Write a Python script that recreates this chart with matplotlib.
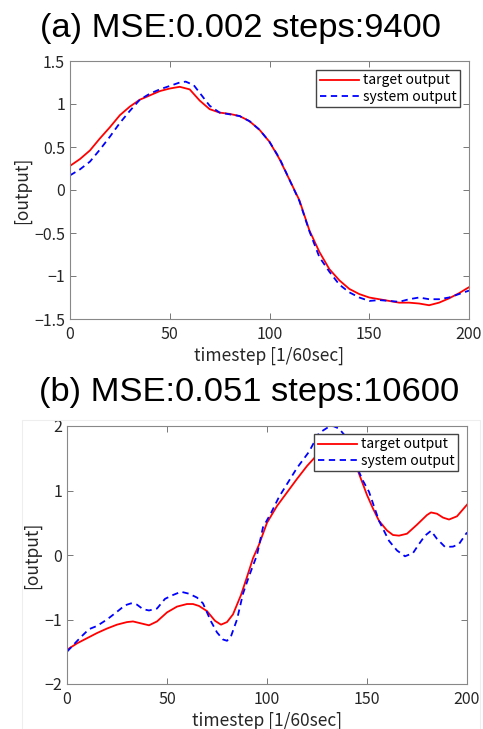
import matplotlib.pyplot as plt
from matplotlib.patches import Rectangle

# (a) top panel
t_a_target = [0, 5, 10, 15, 20, 25, 30, 35, 40, 45, 50, 55, 60, 65, 70, 75, 80, 85, 90, 95,
              100, 105, 110, 115, 120, 125, 130, 135, 140, 145, 150, 155, 160, 165, 170, 175,
              180, 185, 190, 195, 200]
a_target = [0.28, 0.36, 0.46, 0.6, 0.73, 0.87, 0.97, 1.05, 1.1, 1.15, 1.18, 1.2, 1.17, 1.04,
            0.94, 0.9, 0.885, 0.86, 0.8, 0.7, 0.56, 0.36, 0.12, -0.12, -0.47, -0.72, -0.92,
            -1.05, -1.15, -1.21, -1.25, -1.27, -1.29, -1.31, -1.31, -1.32, -1.34, -1.31, -1.26,
            -1.2, -1.13]
t_a_system = [0, 5, 10, 15, 20, 25, 30, 35, 40, 45, 50, 55, 58, 62, 65, 70, 75, 80, 85, 90, 95,
              100, 105, 110, 115, 120, 125, 130, 135, 140, 145, 150, 155, 160, 165, 170, 175,
              180, 185, 190, 195, 200]
a_system = [0.17, 0.24, 0.33, 0.47, 0.62, 0.78, 0.92, 1.05, 1.12, 1.17, 1.21, 1.25, 1.26, 1.22,
            1.13, 0.98, 0.9, 0.88, 0.86, 0.8, 0.7, 0.56, 0.37, 0.12, -0.13, -0.48, -0.78, -0.95,
            -1.1, -1.19, -1.25, -1.29, -1.28, -1.29, -1.3, -1.27, -1.25, -1.27, -1.27, -1.25,
            -1.21, -1.17]

# (b) bottom panel
t_b_target = [0, 5, 10, 15, 20, 25, 30, 33, 37, 41, 45, 50, 55, 60, 63, 66, 70, 74, 77, 80, 83,
              87, 90, 93, 96, 100, 105, 110, 115, 120, 125, 130, 135, 140, 143, 146, 150, 153,
              156, 160, 163, 166, 170, 175, 180, 182, 185, 188, 191, 195, 200]
b_target = [-1.47, -1.37, -1.29, -1.21, -1.14, -1.08, -1.04, -1.03, -1.06, -1.09, -1.03, -0.89,
            -0.8, -0.76, -0.76, -0.79, -0.87, -1.02, -1.08, -1.04, -0.92, -0.62, -0.34, -0.05,
            0.16, 0.5, 0.76, 0.97, 1.18, 1.38, 1.55, 1.7, 1.78, 1.7, 1.52, 1.26, 0.93, 0.72,
            0.53, 0.38, 0.31, 0.3, 0.33, 0.47, 0.62, 0.66, 0.64, 0.58, 0.55, 0.6, 0.78]
t_b_system = [0, 3, 7, 11, 15, 20, 25, 29, 32, 35, 38, 41, 45, 49, 53, 57, 61, 65, 68, 72, 75,
              78, 80, 82, 85, 88, 91, 95, 98, 102, 106, 110, 115, 121, 126, 130, 133, 136, 139,
              142, 145, 148, 151, 156, 161, 165, 169, 173, 176, 179, 182, 185, 189, 193, 196, 200]
b_system = [-1.5, -1.4, -1.27, -1.15, -1.1, -1.0, -0.88, -0.78, -0.75, -0.77, -0.84, -0.86,
            -0.83, -0.68, -0.62, -0.57, -0.6, -0.66, -0.75, -1.03, -1.2, -1.31, -1.33, -1.26,
            -1.0, -0.6, -0.33, 0.0, 0.43, 0.65, 0.9, 1.1, 1.35, 1.6, 1.89, 1.97, 2.0, 1.96, 1.85,
            1.65, 1.36, 1.15, 0.98, 0.53, 0.22, 0.07, -0.02, 0.03, 0.17, 0.3, 0.375, 0.25, 0.125,
            0.13, 0.17, 0.35]

titles = ["(a) MSE:0.002 steps:9400", "(b) MSE:0.051 steps:10600"]
jp = ["Noto Sans CJK JP", "DejaVu Sans"]
W, H = 483, 729

fig = plt.figure(figsize=(W / 100, H / 100), dpi=100)

# faint frame around lower panel
fig.patches.append(Rectangle((22 / W, 0), 458 / W, 1 - 420 / H, transform=fig.transFigure,
                             fill=False, edgecolor="#eeeeee", lw=0.8))


def setup(ax, ylim, yticks, title, tx, ty, leg_xy):
    ax.plot(*leg_xy[0], color="red", lw=1.3, label="target output")
    ax.plot(*leg_xy[1], color="blue", lw=1.3, ls=(0, (3.5, 2.5)), label="system output")
    ax.set_xlim(0, 200)
    ax.set_ylim(*ylim)
    ax.set_xticks([0, 50, 100, 150, 200])
    ax.set_yticks(yticks)
    ax.tick_params(direction="in", top=True, right=True, length=4, width=0.7,
                   color="#777777", labelsize=11.5, labelcolor="#262626")
    ax.tick_params(axis="x", pad=5)
    for lab in ax.get_xticklabels() + ax.get_yticklabels():
        lab.set_family(jp)
    for s in ax.spines.values():
        s.set_color("#888888")
        s.set_linewidth(0.8)
    ax.set_xlabel("timestep [1/60sec]", family=jp, fontsize=12.5, color="#262626", labelpad=3)
    ax.set_ylabel("[output]", family=jp, fontsize=12.5, color="#262626", labelpad=2)
    fig.text(tx, ty, title, ha="center", va="center", fontsize=24.8, family="Liberation Sans")


leg_kw = dict(loc="upper right", bbox_transform=fig.transFigure, borderaxespad=0,
              fancybox=False, framealpha=1, edgecolor="#444444",
              prop={"family": jp, "size": 10}, handlelength=2.8, handletextpad=0.3,
              borderpad=0.25, labelspacing=0.15)

ax1 = fig.add_axes([70 / W, 1 - 319 / H, 399 / W, 258 / H])
setup(ax1, (-1.5, 1.5), [-1.5, -1, -0.5, 0, 0.5, 1, 1.5], titles[0], 241 / W, 1 - 28 / H,
      [(t_a_target, a_target), (t_a_system, a_system)])
ax1.set_yticklabels(["\u22121.5", "\u22121", "\u22120.5", "0", "0.5", "1", "1.5"])
ax1.legend(bbox_to_anchor=(460 / W, 1 - 70 / H), **leg_kw)

ax2 = fig.add_axes([67 / W, 1 - 684 / H, 400 / W, 258 / H])
setup(ax2, (-2, 2), [-2, -1, 0, 1, 2], titles[1], 249 / W, 1 - 393 / H,
      [(t_b_target, b_target), (t_b_system, b_system)])
ax2.set_yticklabels(["\u22122", "\u22121", "0", "1", "2"])
ax2.legend(bbox_to_anchor=(458 / W, 1 - 434 / H), **leg_kw)

fig.savefig("out.png", dpi=100)
